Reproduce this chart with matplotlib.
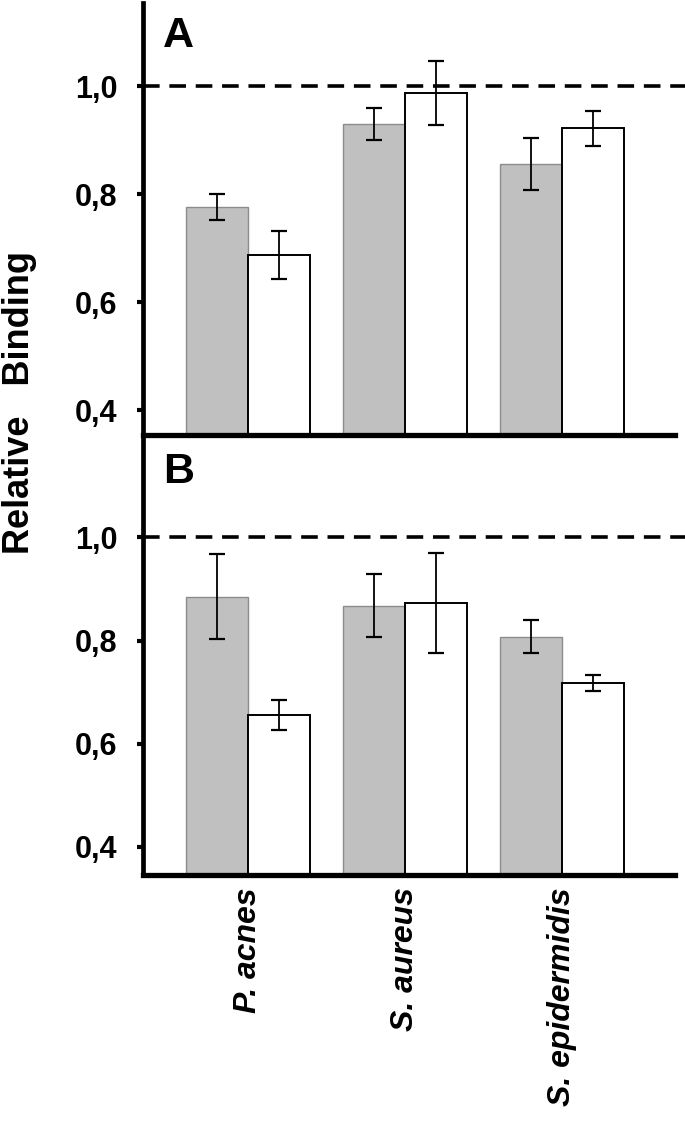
import matplotlib
matplotlib.use("Agg")
import matplotlib.pyplot as plt
import numpy as np

plt.rcParams['font.family'] = ['Liberation Sans', 'DejaVu Sans']

species = ["P. acnes", "S. aureus", "S. epidermidis"]
yticks = [0.4, 0.6, 0.8, 1.0]
ytick_labels = ["0,4", "0,6", "0,8", "1,0"]

# panel A
a_gray = [0.776, 0.930, 0.856]
a_gray_err = [0.024, 0.029, 0.048]
a_white = [0.687, 0.987, 0.922]
a_white_err = [0.045, 0.059, 0.032]

# panel B
b_gray = [0.885, 0.868, 0.807]
b_gray_err = [0.082, 0.062, 0.032]
b_white = [0.656, 0.872, 0.718]
b_white_err = [0.029, 0.097, 0.016]

fig = plt.figure(figsize=(6.85, 11.23), dpi=100)
axB = fig.add_axes([0.2088, 0.2208, 0.7912, 0.3919])
axA = fig.add_axes([0.2088, 0.6127, 0.7912, 0.3846])
for ax in (axA, axB):
    ax.patch.set_alpha(0)

x = np.arange(len(species))
w = 0.395


def draw_panel(ax, gray, gray_err, white, white_err, ylim, letter, ly):
    ax.bar(x - w / 2, gray, w, bottom=0, color="#c0c0c0", edgecolor="#8c8c8c",
           linewidth=1.0, zorder=2)
    ax.bar(x + w / 2, white, w, bottom=0, color="white", edgecolor="black",
           linewidth=1.4, zorder=2)
    ax.errorbar(x - w / 2, gray, yerr=gray_err, fmt="none", ecolor="black",
                elinewidth=1.3, capsize=5.8, capthick=1.6, zorder=3)
    ax.errorbar(x + w / 2, white, yerr=white_err, fmt="none", ecolor="black",
                elinewidth=1.3, capsize=5.8, capthick=1.6, zorder=3)
    ax.axhline(1.0, color="black", linewidth=2.6, dashes=(4.6, 2.7), zorder=1)
    ax.set_xlim(-0.669, 2.783)
    ax.set_ylim(*ylim)
    ax.spines["top"].set_visible(False)
    ax.spines["right"].set_visible(False)
    ax.spines["left"].set_linewidth(3.4)
    ax.spines["bottom"].set_linewidth(3.8)
    ax.spines["bottom"].set_bounds(-0.669, 2.72)
    ax.set_yticks(yticks)
    ax.set_yticklabels(ytick_labels, fontsize=22, fontweight="bold")
    ax.tick_params(axis="y", direction="out", length=4.5, width=3, pad=14)
    ax.text(0.037, ly, letter, transform=ax.transAxes, fontsize=31,
            fontweight="bold", va="baseline", ha="left")


draw_panel(axA, a_gray, a_gray_err, a_white, a_white_err, (0.354, 1.154), "A", 0.898)
draw_panel(axB, b_gray, b_gray_err, b_white, b_white_err, (0.345, 1.199), "B", 0.890)

axA.set_xticks([])
axB.set_xticks(x)
axB.set_xticklabels(species, rotation=90, fontsize=23, style="italic",
                    fontweight="bold")
axB.tick_params(axis="x", length=0, pad=9)

fig.text(0.029, 1 - 402 / 1123, "Relative   Binding", rotation=90,
         fontsize=26, fontweight="bold", ha="center", va="center")

fig.savefig("out.png", dpi=100)
